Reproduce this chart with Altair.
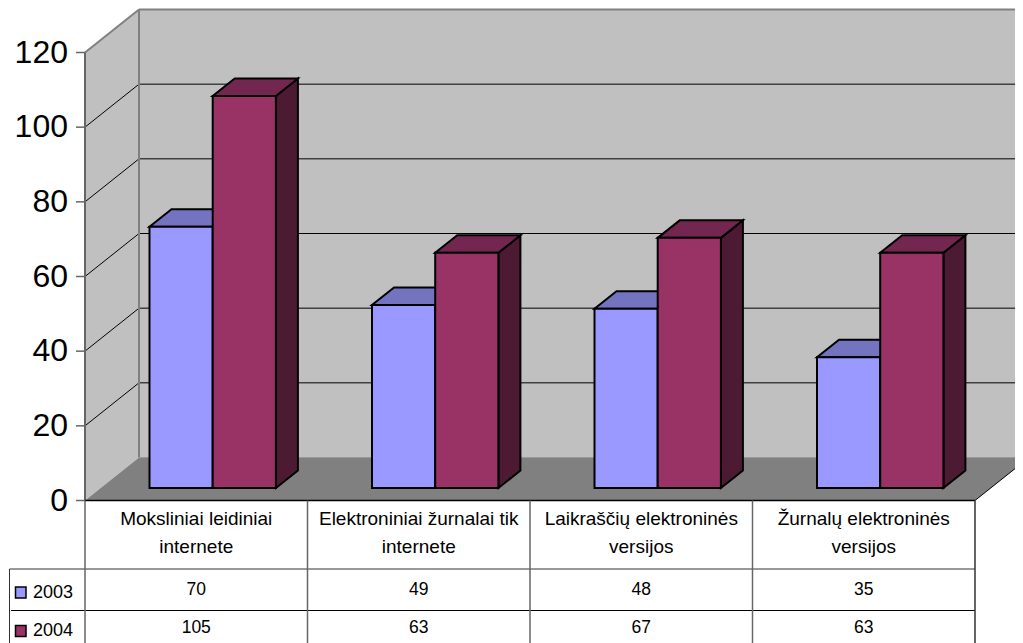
import altair as alt
import pandas as pd

# ---- chart values ----
category_lines = [
    ["Moksliniai leidiniai", "internete"],
    ["Elektroniniai žurnalai tik", "internete"],
    ["Laikraščių elektroninės", "versijos"],
    ["Žurnalų elektroninės", "versijos"],
]
series_names = ["2003", "2004"]
values_2003 = [70, 49, 48, 35]
values_2004 = [105, 63, 67, 63]
tick_values = [0, 20, 40, 60, 80, 100, 120]

# ---- colours ----
WALL = "#c0c0c0"
FLOOR = "#808080"
EDGE = "#808080"
AXIS = "#666666"
C2003 = ("#9999ff", "#7373bf")
C2004 = ("#993366", "#732650", "#4d1a33")

# ---- projection: slot units and value units ----
W, H = 1007, 635
UNIT_PX = 448 / 120      # px per value unit
SLOT_PX = 222.5          # px per category slot
X0, Y0 = 85 - 8, 500.5 - 8  # where slot 0 / value 0 fall in the plot area
x_dom = [-X0 / SLOT_PX, (W - X0) / SLOT_PX]
y_dom = [(Y0 - H) / UNIT_PX, Y0 / UNIT_PX]
xs = alt.Scale(domain=x_dom, range=[0, W], nice=False, zero=False)
ys = alt.Scale(domain=y_dom, range=[H, 0], nice=False, zero=False)

BACK_DX, BACK_DY = 54 / SLOT_PX, 43 / UNIT_PX     # wall depth
BAR_DX, BAR_DY = 22 / SLOT_PX, 17.5 / UNIT_PX     # bar depth
BASE_DX, BASE_DY = 0.0, 12.5 / UNIT_PX            # bars stand in from the front
BAR_START, BAR_W = 64.5 / SLOT_PX, 63.2 / SLOT_PX
N = len(category_lines)
XR = x_dom[1] + 10 / SLOT_PX

X = alt.X("x:Q", scale=xs, axis=None)
Y = alt.Y("y:Q", scale=ys, axis=None)


def vert(points, fill, stroke=None, sw=0):
    """Polygon with two vertical edges: rows of (x, y, y2)."""
    df = pd.DataFrame(points, columns=["x", "y", "y2"])
    kw = dict(stroke=stroke, strokeWidth=sw) if stroke else {}
    return alt.Chart(df).mark_area(fill=fill, clip=True, opacity=1, **kw).encode(
        x=X, y=Y, y2="y2:Q")


def horiz(points, fill, stroke=None, sw=0):
    """Polygon with two horizontal edges: rows of (y, x, x2)."""
    df = pd.DataFrame(points, columns=["y", "x", "x2"])
    kw = dict(stroke=stroke, strokeWidth=sw) if stroke else {}
    return alt.Chart(df).mark_area(fill=fill, clip=True, opacity=1, orient="horizontal", **kw).encode(
        y=Y, x=X, x2="x2:Q")


def seg(x1, y1, x2, y2, color="black", sw=1):
    df = pd.DataFrame({"x": [x1, x2], "y": [y1, y2]})
    return alt.Chart(df).mark_line(color=color, strokeWidth=sw, clip=True).encode(x=X, y=Y)


def text(rows, size, align="center", font="Liberation Sans"):
    df = pd.DataFrame(rows, columns=["x", "y", "t"])
    return alt.Chart(df).mark_text(fontSize=size, align=align, baseline="middle", font=font,
                                   color="black").encode(x=X, y=Y, text="t:N")


layers = []

# walls and floor
top = 120
layers.append(vert([(BACK_DX, BACK_DY, top + BACK_DY), (XR, BACK_DY, top + BACK_DY)], WALL))
layers.append(vert([(0, 0, top), (BACK_DX, BACK_DY, top + BACK_DY)], WALL))
layers.append(horiz([(BACK_DY, BACK_DX, N + BACK_DX), (0, 0, N)], FLOOR))

# gridlines
for t in tick_values[1:-1]:
    layers.append(seg(BACK_DX, t + BACK_DY, XR, t + BACK_DY, "black", 1))
    layers.append(seg(0, t, BACK_DX, t + BACK_DY, "black", 1))

# wall edges
layers.append(seg(BACK_DX, top + BACK_DY, XR, top + BACK_DY, EDGE, 2))
layers.append(seg(BACK_DX, BACK_DY, BACK_DX, top + BACK_DY, EDGE, 2))
layers.append(seg(0, top, BACK_DX, top + BACK_DY, EDGE, 2))
layers.append(seg(BACK_DX, BACK_DY, XR, BACK_DY, "#999999", 1))
layers.append(seg(0, 0, 0, top, AXIS, 2))
layers.append(seg(N, 0, N + BACK_DX, BACK_DY, "black", 1))

# axis ticks and labels
TICK = 9 / SLOT_PX
for t in tick_values:
    layers.append(seg(-TICK, t, 0, t, AXIS, 1.5))
layers.append(text([(-17 / SLOT_PX, t, str(t)) for t in tick_values], 32, "right"))


# bars
def bar(i, j, v):
    x1 = i + BAR_START + j * BAR_W + BASE_DX
    x2 = x1 + BAR_W
    b = BASE_DY
    t_ = b + v
    return x1, x2, b, t_


for i in range(N):
    x1, x2, b, t_ = bar(i, 0, values_2003[i])
    layers.append(horiz([(t_ + BAR_DY, x1 + BAR_DX, x2 + BAR_DX), (t_, x1, x2)], C2003[1], "black", 2))
    layers.append(vert([(x1, b, t_), (x2, b, t_)], C2003[0], "black", 2))

    x1, x2, b, t_ = bar(i, 1, values_2004[i])
    layers.append(vert([(x2, b, t_), (x2 + BAR_DX, b + BAR_DY, t_ + BAR_DY)], C2004[2], "black", 2))
    layers.append(horiz([(t_ + BAR_DY, x1 + BAR_DX, x2 + BAR_DX), (t_, x1, x2)], C2004[1], "black", 2))
    layers.append(vert([(x1, b, t_), (x2, b, t_)], C2004[0], "black", 2))


# data table (pixel rows expressed in value units)
def row(px):
    return (500.5 - px) / UNIT_PX


LEFT = (9.5 - 85) / SLOT_PX
BOTTOM = y_dom[0]
layers.append(seg(0, 0, N, 0, "black", 1.5))
layers.append(seg(0, row(569), N, row(569), "#333333", 1))
layers.append(seg(LEFT, row(569), 0, row(569), "#333333", 1))
layers.append(seg(LEFT + 1.5 / SLOT_PX, row(610.5), N, row(610.5), "black", 1))
layers.append(seg(LEFT, row(569), LEFT, BOTTOM, "#333333", 1))
for i in range(N + 1):
    layers.append(seg(i, 0, i, BOTTOM, "#333333" if i == N else AXIS, 1.5))

layers.append(text(
    [(i + 0.5, row(519 + 28 * k), line)
     for i, lines in enumerate(category_lines) for k, line in enumerate(lines)], 19))
layers.append(text([(i + 0.5, row(589.5), str(v)) for i, v in enumerate(values_2003)], 17.5))
layers.append(text([(i + 0.5, row(628), str(v)) for i, v in enumerate(values_2004)], 17.5))

# legend keys inside the table
for yc, name, col in [(592.5, series_names[0], C2003[0]), (631, series_names[1], C2004[0])]:
    kx1, kx2 = (15.5 - 85) / SLOT_PX, (26 - 85) / SLOT_PX
    layers.append(vert([(kx1, row(yc + 5.5), row(yc - 5.5)), (kx2, row(yc + 5.5), row(yc - 5.5))],
                       col, "black", 1.5))
    layers.append(text([((33 - 85) / SLOT_PX, row(yc), name)], 18, "left"))

chart = alt.layer(*layers).properties(
    width=W, height=H, padding=0, background="white",
    autosize=alt.AutoSizeParams(type="none"),
).configure_view(stroke=None)

chart.save("out.html", embed_options={"renderer": "svg", "actions": False})
